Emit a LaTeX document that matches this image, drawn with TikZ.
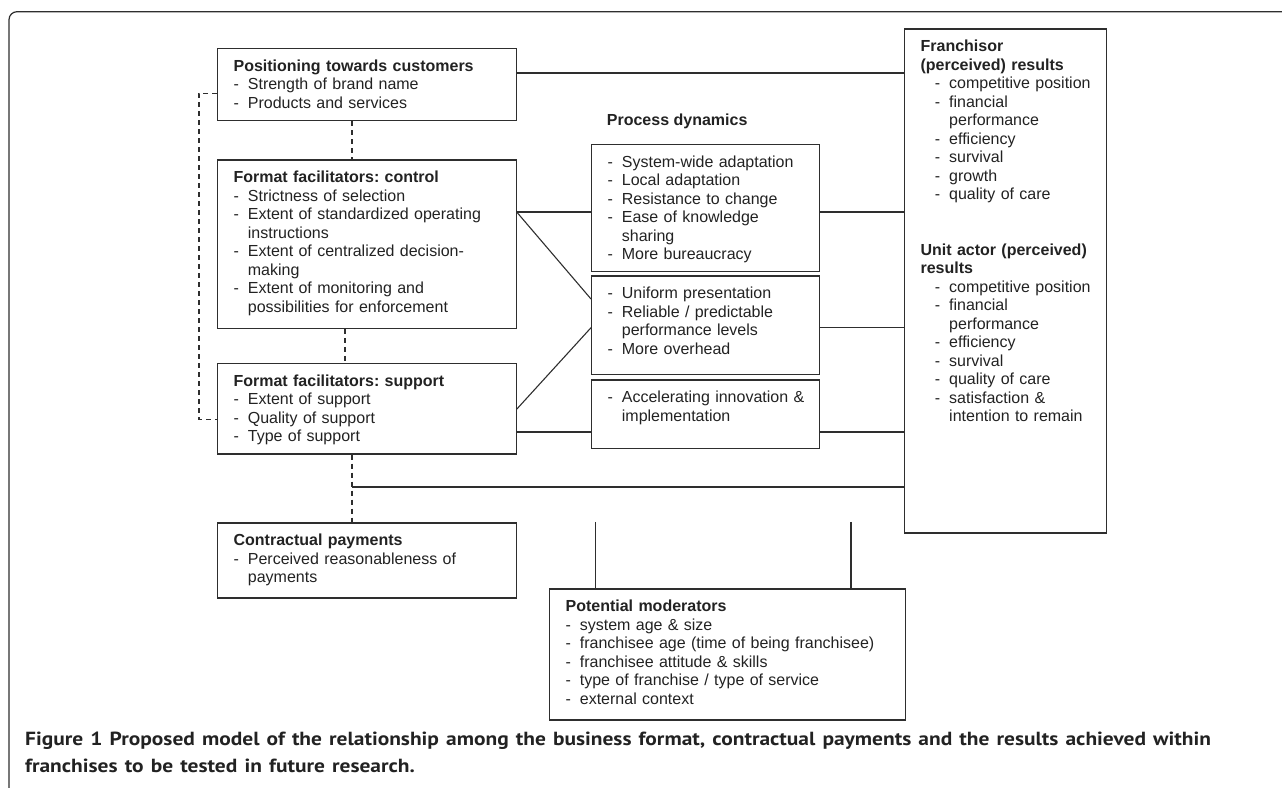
\documentclass[tikz,border=0pt]{standalone}
\usepackage{fontspec}
\usepackage{graphicx}
\setmainfont{Liberation Sans}
\newfontfamily\capfont{PT Sans}
\usetikzlibrary{calc}
\definecolor{ink}{HTML}{222222}
\definecolor{rulecol}{HTML}{2E2E2E}
\frenchspacing
\hyphenpenalty=10000
\newcommand{\hd}[1]{\textbf{#1}\par}
\newcommand{\itm}[1]{\hangindent=14.3pt\hangafter=1\noindent\makebox[14.3pt][l]{-}#1\par}
\newcommand{\ritm}[1]{\hangindent=28.6pt\hangafter=1\noindent\hspace*{14.3pt}\makebox[14.3pt][l]{-}#1\par}
\newcommand{\capline}[1]{\scalebox{1.128}[1]{#1}}
\begin{document}
\begin{tikzpicture}[x=1pt,y=-1pt]
  \tikzstyle{box}=[draw=rulecol, line width=1.2pt, anchor=north west, align=left,
    inner xsep=16pt, inner ysep=11.5pt, text height=11.5pt, text=ink,
    font=\fontsize{16}{18.5}\selectfont]
  \tikzstyle{conn}=[draw=rulecol, line width=1.1pt]
  \tikzstyle{dsh}=[conn, dash pattern=on 5pt off 4pt]
  \useasboundingbox (0,0) rectangle (1282,787);
  % frame
  \draw[rulecol, line width=1.2pt, rounded corners=8pt] (1283,11.7) -- (9,11.7) -- (9,788);
  % left column
  \node[box, text width=266.5pt, text depth=38pt] (pos) at (217,47.5)
    {\hd{Positioning towards customers}\itm{Strength of brand name}\itm{Products and services}};
  \node[box, text width=266.5pt, text depth=133.9pt] (ctrl) at (217,159.3)
    {\hd{Format facilitators: control}\itm{Strictness of selection}%
     \itm{Extent of standardized operating\newline instructions}%
     \itm{Extent of centralized decision-\newline making}%
     \itm{Extent of monitoring and\newline possibilities for enforcement}};
  \node[box, text width=266.5pt, text depth=56.1pt] (supp) at (217,362.7)
    {\hd{Format facilitators: support}\itm{Extent of support}\itm{Quality of support}\itm{Type of support}};
  \node[box, text width=266.5pt, text depth=40.5pt] (contr) at (217,522.3)
    {\hd{Contractual payments}\itm{Perceived reasonableness of\newline payments}};
  % process dynamics
  \node[anchor=base west, inner sep=0, text=ink, font=\fontsize{16}{18.5}\selectfont\bfseries] (pdlab) at (606.7,125) {Process dynamics};
  \node[box, text width=196pt, text depth=92.5pt] (pd1) at (591,143.7)
    {\itm{System-wide adaptation}\itm{Local adaptation}\itm{Resistance to change}%
     \itm{Ease of knowledge\newline sharing}\itm{More bureaucracy}};
  \node[box, text width=196pt, text depth=64.2pt] (pd2) at (591,275.3)
    {\itm{Uniform presentation}\itm{Reliable / predictable\newline performance levels}\itm{More overhead}};
  \node[box, text width=196pt, text depth=33.9pt] (pd3) at (591,379.3)
    {\itm{\mbox{Accelerating innovation \&}\newline implementation}};
  % results
  \node[box, text width=169.5pt, text depth=469.5pt] (res) at (904,28.3)
    {\hd{Franchisor\newline (perceived) results}%
     \ritm{\mbox{competitive position}}\ritm{financial\newline performance}\ritm{efficiency}%
     \ritm{survival}\ritm{growth}\ritm{quality of care}\vspace{37pt}%
     \hd{\mbox{Unit actor (perceived)}\newline results}%
     \ritm{\mbox{competitive position}}\ritm{financial\newline performance}\ritm{efficiency}%
     \ritm{survival}\ritm{quality of care}\ritm{satisfaction \&\newline intention to remain}};
  % moderators
  \node[box, text width=324pt, text depth=96.5pt] (mod) at (549,588.3)
    {\hd{Potential moderators}\itm{system age \& size}\itm{franchisee age (time of being franchisee)}%
     \itm{franchisee attitude \& skills}\itm{type of franchise / type of service}\itm{external context}};
  % caption
  \node[anchor=base west, inner sep=0, text width=1240pt, align=left, text=ink,
    font=\capfont\bfseries\fontsize{19}{27}\selectfont] (cap) at (25,745)
    {\capline{Figure 1 Proposed model of the relationship among the business format, contractual payments and the results achieved within}\newline
     \capline{franchises to be tested in future research.}};
  % connection points
  \coordinate (posR) at ($(pos.north east)+(0,25.5)$);
  \coordinate (ctrlR) at ($(ctrl.north east)+(0,52.7)$);
  \coordinate (pd2a) at ($(pd2.north west)+(0,23.7)$);
  \coordinate (pd2b) at ($(pd2.north west)+(0,52.4)$);
  \coordinate (suppR1) at ($(supp.north east)+(0,46.5)$);
  \coordinate (suppR2) at ($(supp.north east)+(0,69.3)$);
  \coordinate (jn) at ($(supp.south west)+(135,32.5)$);
  \coordinate (posL) at ($(pos.north west)+(0,45.8)$);
  \coordinate (suppL) at ($(supp.north west)+(0,56.6)$);
  \coordinate (m1) at ($(mod.north west)+(46.5,-66.5)$);
  \coordinate (m2) at ($(mod.north west)+(302,-66.5)$);
  \coordinate (d1) at ($(pos.south west)+(135,0)$);
  \coordinate (d2) at ($(ctrl.south west)+(128,0)$);
  \coordinate (d3) at ($(supp.south west)+(135,0)$);
  % solid links
  \draw[conn] (posR) -- (posR -| res.west);
  \draw[conn] (ctrlR) -- (ctrlR -| pd1.west);
  \draw[conn] (ctrlR -| pd1.east) -- (ctrlR -| res.west);
  \draw[conn] (ctrlR) -- (pd2a);
  \draw[conn] (suppR1) -- (pd2b);
  \draw[conn] (pd2b -| pd2.east) -- (pd2b -| res.west);
  \draw[conn] (suppR2) -- (suppR2 -| pd3.west);
  \draw[conn] (suppR2 -| pd3.east) -- (suppR2 -| res.west);
  \draw[conn] (jn) -- (jn -| res.west);
  \draw[conn] (m1) -- (m1 |- mod.north);
  \draw[conn] (m2) -- (m2 |- mod.north);
  % dashed links
  \draw[dsh] (d1) -- (d1 |- ctrl.north);
  \draw[dsh] (d2) -- (d2 |- supp.north);
  \draw[dsh] (d3) -- (d3 |- contr.north);
  \draw[dsh] (posL) -- ++(-18,0) |- (suppL);
\end{tikzpicture}
\end{document}
